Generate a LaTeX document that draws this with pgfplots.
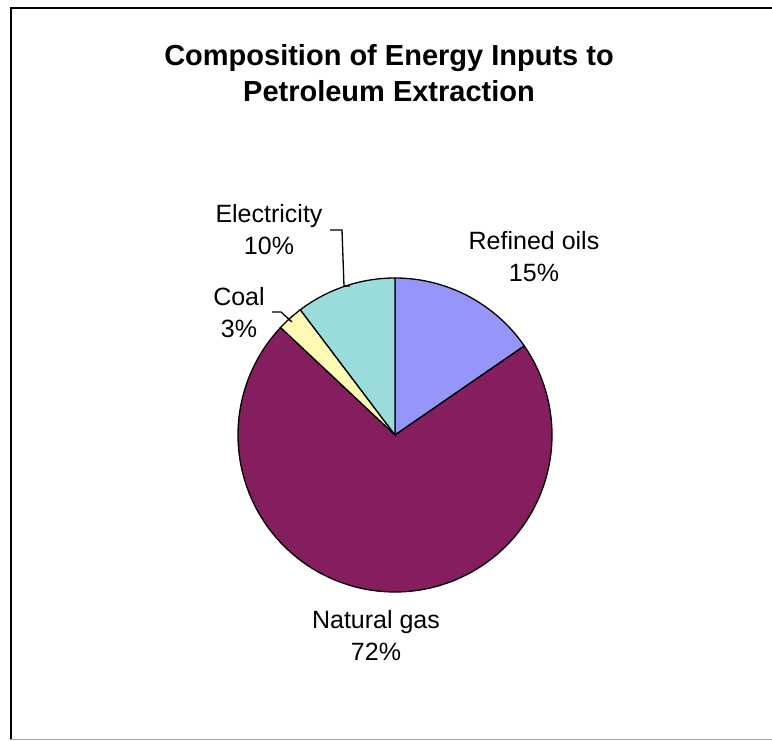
\documentclass[border=0pt]{standalone}
\usepackage{pgfplots}
\pgfplotsset{compat=1.18}
\usepackage{fontspec}
\setmainfont{Liberation Sans}
\definecolor{refined}{HTML}{9595FA}
\definecolor{natgas}{HTML}{841E5E}
\definecolor{coal}{HTML}{FFFBB4}
\definecolor{elec}{HTML}{9ADCDC}
\begin{document}
\begin{tikzpicture}
\begin{axis}[
  hide axis, scale only axis,
  width=772pt, height=741pt,
  xmin=0, xmax=772, ymin=0, ymax=741,
  clip=false,
]
% pie: values (percent) Refined oils 15.4, Natural gas 71.6, Coal 2.7, Electricity 10.3
% angles start at 90 deg, clockwise, 3.6 deg per percent
\addplot[fill=refined, draw=black, line width=1.3pt, domain={90-3.6*15.4}:90, samples=60, variable=\t]
  ({395+157*cos(\t)},{306+157*sin(\t)}) -- (axis cs:395,306) -- cycle;
\addplot[fill=natgas, draw=black, line width=1.3pt, domain={90-3.6*(15.4+71.6)}:{90-3.6*15.4}, samples=200, variable=\t]
  ({395+157*cos(\t)},{306+157*sin(\t)}) -- (axis cs:395,306) -- cycle;
\addplot[fill=coal, draw=black, line width=1.3pt, domain={90-3.6*(15.4+71.6+2.7)}:{90-3.6*(15.4+71.6)}, samples=20, variable=\t]
  ({395+157*cos(\t)},{306+157*sin(\t)}) -- (axis cs:395,306) -- cycle;
\addplot[fill=elec, draw=black, line width=1.3pt, domain={90-3.6*100}:{90-3.6*(15.4+71.6+2.7)}, samples=40, variable=\t]
  ({395+157*cos(\t)},{306+157*sin(\t)}) -- (axis cs:395,306) -- cycle;
% leader lines
\draw[black, line width=1.3pt] (axis cs:330,511) -- (axis cs:342,511) -- (axis cs:344,455) -- (axis cs:350,455);
\draw[black, line width=1.3pt] (axis cs:272,429) -- (axis cs:281,429) -- (axis cs:292,419);
% title
\node[font=\bfseries\fontsize{29}{36}\selectfont, align=center] at (axis cs:389,668)
  {Composition of Energy Inputs to\\Petroleum Extraction};
% labels
\node[font=\fontsize{25}{32}\selectfont, align=center] at (axis cs:269,511) {Electricity\\10\%};
\node[font=\fontsize{25}{32}\selectfont, align=center] at (axis cs:239,428) {Coal\\3\%};
\node[font=\fontsize{25}{32}\selectfont, align=center] at (axis cs:534,484) {Refined oils\\15\%};
\node[font=\fontsize{25}{32}\selectfont, align=center] at (axis cs:376,105) {Natural gas\\72\%};
\end{axis}
% frame (chart area border), in the same pt units as the axis
\fill[black] ([xshift=10pt,yshift=-9pt]current axis.north west) rectangle ([xshift=2pt,yshift=-7pt]current axis.north east);
\fill[black] ([xshift=10pt,yshift=-9pt]current axis.north west) rectangle ([xshift=12pt,yshift=0.7pt]current axis.south west);
\fill[gray!70] ([xshift=10pt,yshift=0.7pt]current axis.south west) rectangle ([xshift=2pt,yshift=2.3pt]current axis.south east);
\pgfresetboundingbox
\useasboundingbox (current axis.south west) rectangle (current axis.north east);
\end{tikzpicture}
\end{document}
